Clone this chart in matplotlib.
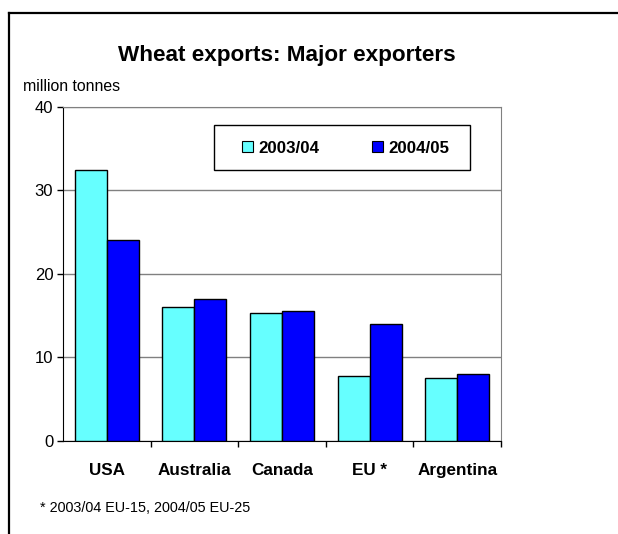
import matplotlib.pyplot as plt
import numpy as np
from matplotlib.lines import Line2D
from matplotlib.patches import Rectangle

plt.rcParams['font.family'] = ['Liberation Sans', 'DejaVu Sans']

countries = ['USA', 'Australia', 'Canada', 'EU *', 'Argentina']
exports_0304 = [32.4, 16.0, 15.3, 7.7, 7.5]
exports_0405 = [24.0, 17.0, 15.5, 14.0, 8.0]
seasons = ['2003/04', '2004/05']

fig = plt.figure(figsize=(6.18, 5.34), dpi=100)
ax = fig.add_axes([0.1019, 0.1747, 0.7087, 0.6249])

x = np.arange(len(countries))
w = 0.365
ax.bar(x - w / 2, exports_0304, w, color='#66FFFF', edgecolor='black', linewidth=1, label=seasons[0], zorder=3)
ax.bar(x + w / 2, exports_0405, w, color='#0000FF', edgecolor='black', linewidth=1, label=seasons[1], zorder=3)

ax.set_xlim(-0.5, len(countries) - 0.5)
ax.set_ylim(0, 40)
ax.set_yticks([0, 10, 20, 30, 40])
ax.tick_params(axis='y', length=4, width=1, labelsize=12, pad=3)
ax.yaxis.grid(True, color='#808080', linewidth=1, zorder=0)

# category labels in the middle, tick marks on the boundaries
ax.set_xticks(x)
ax.set_xticklabels(countries, fontsize=12.3, fontweight='bold')
ax.tick_params(axis='x', length=0, pad=16)
ax.set_xticks(np.arange(0.5, len(countries), 1), minor=True)
ax.tick_params(axis='x', which='minor', length=4, width=1)

for side in ['left', 'bottom']:
    ax.spines[side].set_color('black')
for side in ['top', 'right']:
    ax.spines[side].set_color('#808080')

# legend box drawn separately, entries placed inside it
ax.add_patch(Rectangle((0.345, 0.81), 0.584, 0.136, transform=ax.transAxes,
                       facecolor='white', edgecolor='black', linewidth=1, zorder=4))
leg = ax.legend(loc='center left', bbox_to_anchor=(0.409, 0.877), ncol=2, frameon=False,
                prop={'weight': 'bold', 'size': 12.2}, handlelength=0.66, handleheight=0.66,
                handletextpad=0.3, columnspacing=3.1, borderaxespad=0, borderpad=0)
leg.set_zorder(5)
for h in leg.legend_handles:
    h.set_linewidth(0.8)

fig.text(0.4636, 0.897, 'Wheat exports: Major exporters', ha='center', va='center',
         fontsize=16.2, fontweight='bold')
fig.text(0.037, 0.838, 'million tonnes', ha='left', va='center', fontsize=11.4)
fig.text(0.065, 0.049, '* 2003/04 EU-15, 2004/05 EU-25', ha='left', va='center', fontsize=10.4)

# outer chart frame (top and left edges)
fig.add_artist(Line2D([8.5 / 618, 1.0], [1 - 12.5 / 534, 1 - 12.5 / 534], color='black', linewidth=1.6))
fig.add_artist(Line2D([8.5 / 618, 8.5 / 618], [0.0, 1 - 12.5 / 534], color='black', linewidth=1.6))

fig.savefig('out.png', dpi=100)
